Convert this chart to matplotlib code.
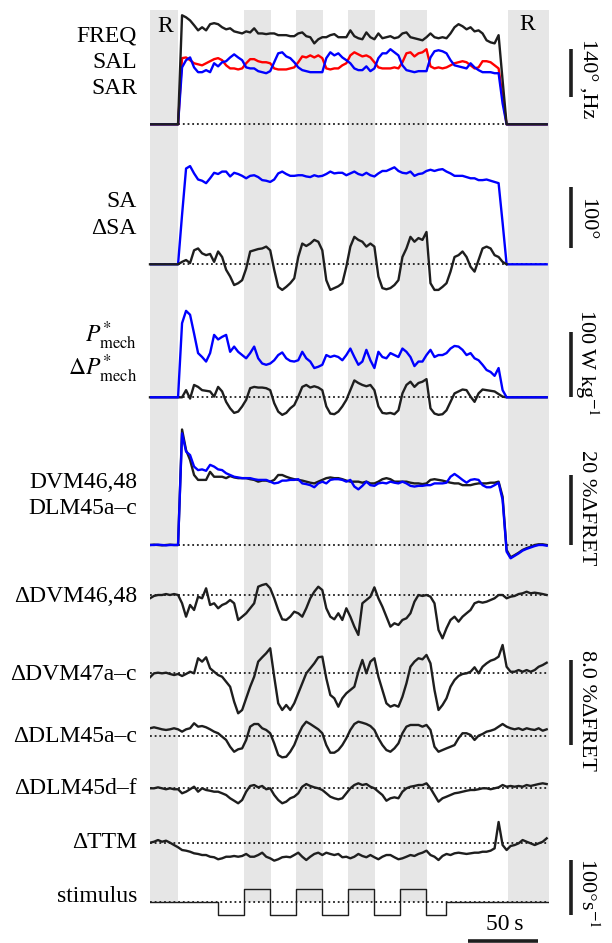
import numpy as np
import matplotlib
matplotlib.use("Agg")
import matplotlib.pyplot as plt

plt.rcParams['font.family'] = ['Liberation Serif', 'DejaVu Serif']
plt.rcParams['mathtext.fontset'] = 'stix'

# ---------------- data ----------------
# sample times (s) of the traces
t = np.linspace(0.0, 282.86, 100)
T_END = 284.3

# grey bands (s): R periods and stimulus "up" phases
band_start = [0.0, 67.1, 104.3, 141.4, 178.6, 255.0]
band_end = [19.8, 86.2, 123.4, 160.5, 197.6, 284.3]

# stimulus (deg/s), step changes
stim_t = [0.0, 48.6, 67.1, 85.7, 104.3, 122.9, 141.4, 160.0, 178.6, 197.1, 211.4, 284.3]
stim_v = [0, -23, 25, -23, 25, -23, 25, -23, 25, -23, 0, 0]

# wingbeat frequency (Hz) and stroke amplitudes (deg)
freq = [0] * 8 + [
    318, 312, 303, 289, 274, 283, 274, 292, 295, 292,
    283, 277, 280, 271, 268, 265, 271, 268, 280, 265,
    265, 263, 265, 265, 260, 260, 260, 257, 257, 265,
    268, 257, 254, 236, 248, 254, 254, 260, 263, 254,
    254, 254, 274, 257, 251, 248, 268, 254, 248, 265,
    251, 254, 257, 251, 254, 265, 268, 254, 251, 248,
    245, 254, 265, 254, 251, 254, 251, 265, 283, 292,
    286, 277, 283, 271, 274, 265, 245, 239, 236, 260,
    128] + [0] * 11
sal = [0] * 8 + [
    193, 195, 187, 178, 175, 172, 178, 184, 190, 193,
    187, 172, 163, 163, 160, 163, 178, 190, 190, 184,
    181, 181, 178, 163, 160, 160, 160, 163, 166, 181,
    198, 195, 201, 195, 201, 193, 163, 160, 163, 163,
    172, 178, 201, 210, 204, 198, 201, 195, 181, 166,
    163, 163, 163, 166, 163, 181, 207, 210, 198, 207,
    210, 219, 169, 163, 166, 163, 166, 172, 178, 181,
    184, 181, 172, 163, 166, 184, 184, 181, 172, 163,
    79] + [0] * 11
sar = [0] * 8 + [
    166, 187, 195, 166, 152, 152, 158, 152, 178, 169,
    181, 184, 195, 204, 195, 187, 166, 163, 163, 155,
    152, 149, 155, 181, 207, 210, 198, 193, 181, 166,
    158, 155, 152, 152, 152, 152, 193, 210, 201, 207,
    195, 187, 178, 163, 158, 158, 169, 155, 163, 193,
    207, 207, 219, 210, 201, 172, 158, 155, 152, 155,
    155, 155, 195, 213, 216, 213, 207, 187, 172, 169,
    166, 163, 178, 166, 158, 152, 152, 152, 149, 149,
    61] + [0] * 11

# mean stroke amplitude and its asymmetry (deg)
sa = [0] * 8 + [
    81, 157, 161, 149, 139, 137, 133, 141, 150, 148,
    152, 152, 144, 150, 148, 145, 141, 145, 146, 143,
    138, 137, 135, 139, 149, 152, 148, 145, 145, 146,
    146, 144, 143, 146, 144, 145, 148, 152, 149, 150,
    150, 146, 149, 152, 148, 146, 150, 146, 144, 149,
    153, 153, 156, 159, 153, 150, 149, 152, 145, 148,
    149, 153, 155, 153, 155, 156, 152, 149, 145, 145,
    145, 143, 141, 141, 138, 138, 139, 137, 135, 133,
    68] + [0] * 11
dsa = [0] * 8 + [
    4, 7, 2, 23, 26, 18, 15, 17, 4, 21,
    12, -9, -20, -34, -31, -26, -7, 21, 23, 25,
    26, 29, 23, -9, -37, -42, -37, -31, -23, 12,
    34, 30, 34, 40, 37, 23, -26, -42, -39, -36,
    -31, -4, 29, 45, 40, 37, 29, 34, 29, -20,
    -39, -41, -39, -34, -26, 12, 26, 45, 37, 43,
    40, 53, -31, -42, -42, -37, -31, -12, 12, 15,
    21, 12, -4, -12, 7, 26, 29, 26, 15, 12,
    4] + [0] * 11

# mechanical power (W/kg) and its asymmetry
pmech = [0] * 8 + [
    114, 133, 127, 98, 68, 62, 55, 68, 96, 89,
    93, 96, 70, 78, 70, 65, 60, 68, 78, 60,
    52, 50, 52, 57, 65, 69, 60, 56, 55, 57,
    70, 60, 55, 45, 47, 50, 65, 62, 64, 62,
    57, 65, 75, 62, 50, 55, 73, 57, 45, 70,
    62, 60, 68, 65, 62, 75, 70, 62, 48, 55,
    55, 65, 73, 62, 65, 65, 68, 75, 79, 78,
    73, 65, 68, 60, 57, 50, 42, 39, 33, 45,
    11] + [0] * 11
dpmech = [0] * 8 + [
    0, 11, -2, 19, 16, 11, 10, 9, 1, 16,
    9, -7, -17, -24, -22, -14, -4, 14, 16, 15,
    15, 14, 11, -9, -22, -27, -24, -17, -12, 1,
    16, 19, 15, 17, 15, 11, -14, -25, -26, -22,
    -14, -4, 11, 26, 22, 19, 17, 19, 11, -14,
    -24, -25, -24, -26, -20, 6, 19, 24, 16, 22,
    24, 28, -17, -25, -27, -26, -20, -7, 6, 9,
    12, 11, 1, -7, 6, 12, 11, 10, 9, 5,
    1] + [0] * 11

# muscle FRET signals (% dFRET)
dvm4648 = [
    0.0, 0.1, 0.0, -0.1, 0.0, 0.1, 0.0, 0.0,
    33.0, 27.1, 24.3, 20.0, 18.6, 18.6, 18.6, 20.9, 19.5, 19.5,
    19.5, 19.1, 19.7, 19.3, 19.1, 19.1, 19.1, 18.8, 18.6, 18.1,
    18.4, 18.4, 18.1, 18.6, 20.0, 20.0, 19.5, 19.1, 18.8, 18.6,
    18.4, 18.1, 17.8, 17.6, 18.1, 18.6, 19.1, 19.3, 19.1, 19.1,
    18.8, 18.4, 18.1, 18.1, 18.1, 17.8, 18.1, 17.6, 17.6, 18.1,
    18.8, 19.1, 18.8, 18.1, 18.1, 18.1, 18.1, 17.8, 17.6, 17.6,
    17.4, 17.6, 18.6, 18.8, 18.6, 18.4, 18.1, 17.8, 17.6, 17.6,
    17.1, 17.1, 17.1, 17.4, 17.6, 17.6, 17.6, 17.8, 17.8, 18.1,
    13.8, -1.4, -3.5, -2.9, -2.2, -1.4, -0.9, -0.5, 0.0, 0.2, 0.2, 0.0]
dlm45ac = [
    0.0, 0.0, 0.1, 0.0, -0.1, 0.0, 0.0, 0.0,
    31.9, 26.7, 25.7, 22.4, 21.4, 21.6, 21.2, 22.9, 22.4, 21.6,
    21.4, 20.5, 20.0, 19.5, 19.3, 19.1, 19.1, 19.1, 18.8, 18.6,
    18.6, 18.6, 18.1, 17.6, 17.8, 18.4, 18.4, 18.6, 18.6, 18.8,
    17.6, 17.4, 17.1, 16.5, 17.6, 18.1, 17.6, 18.6, 18.8, 18.8,
    18.6, 18.1, 18.6, 16.7, 15.9, 16.9, 18.1, 17.1, 16.9, 17.6,
    17.8, 17.6, 18.1, 17.8, 17.6, 18.1, 17.6, 16.9, 16.7, 16.9,
    16.9, 17.1, 17.1, 17.6, 17.6, 17.6, 17.8, 19.5, 20.3, 19.5,
    18.6, 17.8, 18.6, 18.8, 18.6, 17.1, 16.5, 16.5, 17.1, 17.8,
    12.9, -1.9, -3.8, -3.1, -2.4, -1.6, -1.1, -0.7, -0.3, 0.0, 0.0, -0.2]

# asymmetries of muscle FRET signals (% dFRET)
d_dvm4648 = [
    -0.31, -0.09, 0.0, 0.0, 0.09, 0.0, 0.09, 0.0,
    -0.78, -2.04, -0.94, -1.41, -0.16, -0.31, 0.63, -0.94, -0.78, -1.25,
    -0.94, -0.78, -0.47, -0.78, -2.35, -2.04, -1.72, -1.25, -0.78, 0.78,
    0.94, 1.04, 0.63, -0.31, -1.41, -2.29, -2.35, -2.04, -1.57, -1.72,
    -2.04, -1.25, -0.31, 0.31, 0.78, 0.47, -1.25, -2.04, -2.29, -1.72,
    -2.35, -1.25, -2.04, -2.98, -3.76, -0.78, -0.47, -0.16, 0.72, -0.31,
    -1.10, -2.04, -2.98, -2.66, -2.82, -2.35, -2.19, -1.72, -0.63, 0.0,
    -0.09, 0.0, -0.16, -0.78, -3.29, -4.08, -3.13, -2.35, -2.04, -2.51,
    -2.04, -1.72, -1.41, -0.78, -0.63, -0.72, -0.63, -0.47, -0.31, 0.0,
    0.0, -0.31, -0.16, -0.09, 0.09, 0.16, 0.31, 0.16, 0.22, 0.16, 0.09, 0.0]
d_dvm47ac = [
    -0.43, -0.06, 0.0, -0.06, 0.0, -0.12, -0.22, -0.12,
    -0.31, -0.12, 0.09, -0.06, 1.36, 1.04, 1.45, 0.41, 0.09, -0.22,
    -0.38, -0.85, -1.32, -2.73, -3.82, -3.51, -2.41, -1.32, -0.38, 1.04,
    1.45, 1.83, 2.30, -0.38, -2.88, -3.51, -3.04, -3.51, -2.88, -1.94,
    -1.00, -0.06, 0.41, 0.88, 1.45, 1.51, -0.53, -2.10, -2.41, -3.20,
    -2.41, -1.94, -1.63, -1.32, 0.09, 1.20, -0.06, 1.04, 1.36, -0.38,
    -1.63, -2.88, -3.20, -3.04, -3.20, -2.26, -1.00, 0.56, 1.04, 1.36,
    1.26, 1.67, 0.88, -1.63, -3.51, -3.04, -2.41, -1.32, -0.69, -0.31,
    -0.12, -0.06, 0.09, 0.51, -0.06, 0.56, 0.88, 1.13, 1.26, 1.51,
    2.61, 0.56, 0.09, 0.09, 0.25, 0.09, 0.25, 0.09, 0.25, 0.56, 0.72, 0.94]
d_dlm45ac = [
    0.70, 0.79, 0.70, 0.60, 0.54, 0.60, 0.70, 0.60,
    0.38, 0.60, 0.70, 1.17, 0.85, 0.91, 0.79, 0.60, 0.38, 0.23,
    -0.09, -0.40, -1.04, -1.51, -1.28, -1.19, -0.40, 0.85, 1.10, 1.10,
    0.70, 0.54, 0.23, -0.72, -1.82, -2.04, -1.98, -1.51, -0.88, 0.07,
    0.85, 1.32, 1.10, 0.85, 0.60, 0.23, -0.88, -1.60, -1.60, -1.35,
    -0.88, -0.24, 0.54, 1.10, 1.32, 1.22, 1.10, 0.91, 0.54, -0.24,
    -0.88, -1.35, -1.51, -1.19, -0.72, 0.23, 0.85, 1.01, 1.01, 1.01,
    0.85, 1.01, 0.54, -1.04, -1.51, -1.35, -1.19, -1.04, -0.88, -0.24,
    0.23, 0.23, 0.07, -0.40, 0.0, 0.16, 0.38, 0.47, 0.60, 0.85,
    1.10, 0.85, 0.70, 0.60, 0.70, 0.54, 0.70, 0.60, 0.54, 0.70, 0.47, 0.60]
d_dlm45df = [
    0.0, 0.0, 0.09, 0.0, -0.09, 0.0, -0.09, -0.09,
    -0.47, -0.32, -0.09, 0.15, -0.32, 0.0, -0.16, -0.23, -0.32, -0.32,
    -0.47, -0.63, -0.94, -1.17, -1.41, -1.10, -0.32, 0.22, 0.31, 0.09,
    0.22, -0.09, 0.0, -0.63, -1.10, -1.41, -1.26, -0.94, -0.79, -0.47,
    0.15, 0.40, 0.22, 0.09, 0.0, -0.16, -0.47, -0.79, -0.94, -1.04,
    -0.94, -0.47, 0.0, 0.31, 0.47, 0.31, 0.40, 0.15, 0.0, -0.32,
    -0.63, -1.17, -0.94, -0.85, -0.94, -0.32, 0.0, 0.15, 0.22, 0.31,
    0.31, 0.47, 0.0, -0.63, -1.26, -0.94, -0.79, -0.63, -0.47, -0.41,
    -0.32, -0.23, -0.16, -0.16, -0.09, 0.0, 0.0, -0.09, 0.0, 0.09,
    0.31, 0.15, 0.22, 0.15, 0.22, 0.15, 0.31, 0.22, 0.31, 0.40, 0.47, 0.40]
d_ttm = [
    0.0, 0.09, 0.25, 0.09, 0.19, 0.0, -0.22, -0.43,
    -0.69, -0.75, -0.85, -1.00, -1.06, -1.16, -1.16, -1.32, -1.37, -1.56,
    -1.47, -1.32, -1.32, -1.25, -1.32, -1.25, -1.06, -1.32, -1.32, -1.16,
    -0.94, -1.32, -1.47, -1.69, -1.56, -1.37, -1.32, -1.37, -1.16, -0.94,
    -1.32, -1.63, -1.32, -1.06, -0.94, -1.16, -0.94, -1.06, -1.16, -1.06,
    -1.37, -1.32, -1.47, -1.32, -1.06, -1.25, -1.37, -1.16, -1.37, -1.56,
    -1.32, -1.16, -1.16, -1.37, -1.56, -1.47, -1.32, -1.16, -1.25, -1.06,
    -0.94, -0.75, -1.16, -1.32, -1.63, -1.25, -1.06, -1.16, -1.00, -0.94,
    -1.00, -1.06, -1.00, -0.94, -0.94, -0.85, -0.85, -0.75, -0.53, 1.95,
    -0.22, -0.69, -0.31, -0.22, -0.06, 0.25, 0.09, -0.06, -0.22, -0.06, 0.09, 0.41]

# ---------------- layout ----------------
W, H = 612, 943
fig = plt.figure(figsize=(W / 100, H / 100), dpi=100)
X0, X1 = 150, 548.7
rect = [X0 / W, 0.0, (X1 - X0) / W, 1.0]

BLACK = '#1e1e1e'
BLUE = '#0000ff'
RED = '#ff0000'
GREY = '#e6e6e6'

bg = fig.add_axes(rect)
bg.set_xlim(0, T_END)
bg.set_ylim(H, 0)
bg.axis('off')
for s, e in zip(band_start, band_end):
    bg.fill_between([s, e], 10, 902, color=GREY, lw=0, zorder=0)


def panel(y0, k):
    """axes whose value 0 sits at pixel row y0, k pixels per unit"""
    ax = fig.add_axes(rect, sharex=bg)
    ax.set_ylim(-(H - y0) / k, y0 / k)
    ax.axis('off')
    ax.patch.set_alpha(0)
    ax.axhline(0, color=BLACK, lw=1.3, ls=(0, (1, 1.6)), zorder=1)
    return ax


LW = 1.7
ax1 = panel(124.3, 48 / 140)
ax1.plot(t, sal, color=RED, lw=LW, zorder=3)
ax1.plot(t, sar, color=BLUE, lw=LW, zorder=4)
ax1.plot(t, freq, color=BLACK, lw=LW, zorder=5)

ax2 = panel(264.3, 61 / 100)
ax2.plot(t, sa, color=BLUE, lw=LW, zorder=3)
ax2.plot(t[:90], dsa[:90], color=BLACK, lw=LW, zorder=4, clip_on=False)

ax3 = panel(397.3, 65 / 100)
ax3.plot(t, dpmech, color=BLACK, lw=LW, zorder=2, clip_on=False)
ax3.plot(t, pmech, color=BLUE, lw=LW, zorder=3)

ax4 = panel(545.0, 3.5)
ax4.plot(t, dvm4648, color=BLACK, lw=LW, zorder=2)
ax4.plot(t, dlm45ac, color=BLUE, lw=LW, zorder=3)

KD = 85 / 8.0
ax5 = panel(595.0, KD)
ax5.plot(t, d_dvm4648, color=BLACK, lw=LW)
ax6 = panel(672.7, KD)
ax6.plot(t, d_dvm47ac, color=BLACK, lw=LW)
ax7 = panel(735.7, KD)
ax7.plot(t, d_dlm45ac, color=BLACK, lw=LW)
ax8 = panel(788.3, KD)
ax8.plot(t, d_dlm45df, color=BLACK, lw=LW)
ax9 = panel(842.7, KD)
ax9.plot(t, d_ttm, color=BLACK, lw=LW)

ax10 = panel(902.3, 0.55)
ax10.step(stim_t, stim_v, where='post', color=BLACK, lw=1.0)

# ---- vertical scale bars (drawn in data units of each panel) ----
XB = (570 - X0) / 1.4
for ax, lo, ln in [(ax1, 80, 140), (ax2, 27, 100), (ax3, 0, 100),
                   (ax4, 0, 20), (ax6, -6.8, 8.0), (ax10, -23, 100)]:
    ax.plot([XB, XB], [lo, lo + ln], color=BLACK, lw=2.6, clip_on=False,
            solid_capstyle='butt')

# horizontal time bar (50 s)
tb0 = (467 - X0) / 1.4
bg.plot([tb0, tb0 + 50], [941, 941], color=BLACK, lw=2.6, clip_on=False,
        solid_capstyle='butt')


def ftext(px, py, s, **kw):
    fig.text(px / W, 1 - py / H, s, **kw)


FS = 17
ftext(505, 924, '50\u2009s', ha='center', va='center', fontsize=FS)
ftext(165, 26, 'R', ha='center', va='center', fontsize=FS)
ftext(527, 25, 'R', ha='center', va='center', fontsize=FS)

left = [(36, 'FREQ'), (62, 'SAL'), (88, 'SAR'),
        (201, 'SA'), (228, '\u0394SA'),
        (336, r'$P^{*}_{\mathrm{mech}}$'), (369, r'$\Delta P^{*}_{\mathrm{mech}}$'),
        (483, 'DVM46,48'), (509, 'DLM45a\u2013c'),
        (596, '\u0394DVM46,48'), (674, '\u0394DVM47a\u2013c'),
        (736, '\u0394DLM45a\u2013c'), (789, '\u0394DLM45d\u2013f'),
        (842, '\u0394TTM'), (897, 'stimulus')]
for py, s in left:
    ftext(137, py, s, ha='right', va='center', fontsize=FS)

right = [(79, '140\u00b0 ,Hz'), (219, '100\u00b0'), (362, r'100 W kg$^{-1}$'),
         (508, '20 %\u0394FRET'), (710, '8.0 %\u0394FRET'), (893, r'100$\degree$s$^{-1}$')]
for py, s in right:
    ftext(587, py, s, ha='center', va='center', rotation=-90, fontsize=16)

fig.savefig('out.png', dpi=100)
